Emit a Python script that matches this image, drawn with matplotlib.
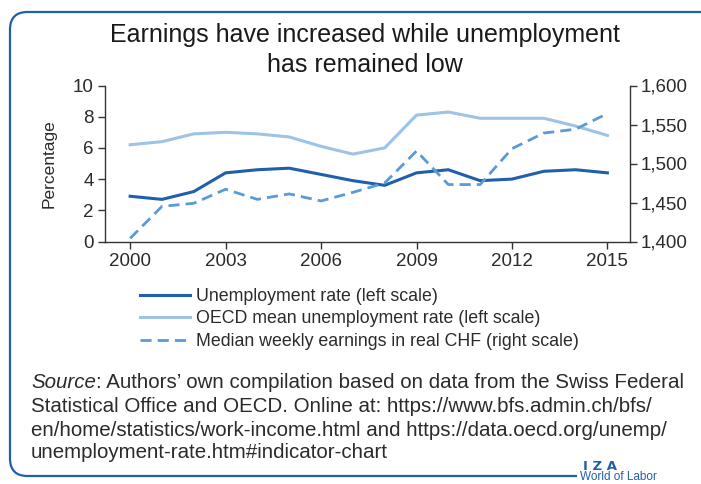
import matplotlib
matplotlib.use("Agg")
import matplotlib.pyplot as plt
from matplotlib.patches import FancyBboxPatch, Rectangle
from matplotlib.ticker import FuncFormatter

years = list(range(2000, 2016))
unemployment = [2.9, 2.7, 3.2, 4.4, 4.6, 4.7, 4.3, 3.9, 3.6, 4.4, 4.6, 3.9, 4.0, 4.5, 4.6, 4.4]
oecd_unemployment = [6.2, 6.4, 6.9, 7.0, 6.9, 6.7, 6.1, 5.6, 6.0, 8.1, 8.3, 7.9, 7.9, 7.9, 7.4, 6.8]
earnings = [1404, 1445, 1449, 1467, 1454, 1461, 1452, 1463, 1475, 1516, 1473, 1473, 1519, 1539, 1544, 1564]
xticks = [2000, 2003, 2006, 2009, 2012, 2015]
left_ticks = [0, 2, 4, 6, 8, 10]
right_ticks = [1400, 1450, 1500, 1550, 1600]
labels = ["Unemployment rate (left scale)",
          "OECD mean unemployment rate (left scale)",
          "Median weekly earnings in real CHF (right scale)"]
title = "Earnings have increased while unemployment\nhas remained low"

FONT = ["Liberation Sans", "DejaVu Sans"]
plt.rcParams['font.family'] = FONT
TXT = "#2b2b2b"
DARK = "#1f5fad"
LIGHT = "#9dc3e6"
MID = "#5b9bd5"
BORDER = "#1f5fad"

W, H = 701, 484
fig = plt.figure(figsize=(W / 100, H / 100), dpi=100)

# border box
box = FancyBboxPatch((10 / W, 8 / H), 720 / W, (476 - 12) / H,
                     boxstyle="round,pad=0,rounding_size=0.025",
                     transform=fig.transFigure, fill=False,
                     edgecolor=BORDER, linewidth=1.6, mutation_aspect=W / H)
fig.patches.append(box)

ax = fig.add_axes([105 / W, 1 - 241.5 / H, (630 - 105) / W, (241.5 - 85.5) / H])
ax2 = ax.twinx()

l1, = ax.plot(years, unemployment, color=DARK, lw=2.2)
l2, = ax.plot(years, oecd_unemployment, color=LIGHT, lw=2.2)
l3, = ax2.plot(years, earnings, color=MID, lw=2.0, linestyle=(0, (4, 2.2)))

ax.set_xlim(1999.21, 2015.71)
ax.set_ylim(0, 10)
ax2.set_ylim(1400, 1600)
ax.set_xticks(xticks)
ax.set_yticks(left_ticks)
ax2.set_yticks(right_ticks)
ax2.yaxis.set_major_formatter(FuncFormatter(lambda v, p: f"{int(v):,}"))

for a in (ax, ax2):
    a.spines['top'].set_visible(False)
    for s in a.spines.values():
        s.set_color("#333333")
        s.set_linewidth(1.0)
    a.tick_params(colors="#333333", labelcolor=TXT, labelsize=13.5, length=5, width=1.0, pad=3)
ax.spines['right'].set_visible(False)
ax2.spines['left'].set_visible(False)
ax2.spines['bottom'].set_visible(False)
ax.set_ylabel("Percentage", fontsize=12.5, color=TXT, labelpad=12)

fig.text(0.5 * (104 + 625) / W, 1 - 50 / H, title, ha="center", va="center",
         fontsize=18.0, color="#1a1a1a", linespacing=1.3)

fig.legend([l1, l2, l3], labels, loc="upper left",
           bbox_to_anchor=(133 / W, 1 - 281 / H), frameon=False,
           fontsize=12.8, handlelength=2.8, handletextpad=0.35,
           labelspacing=0.3, labelcolor=TXT, borderaxespad=0)

# source text
src_lines = [
    ": Authors\u2019 own compilation based on data from the Swiss Federal",
    "Statistical Office and OECD. Online at: https://www.bfs.admin.ch/bfs/",
    "en/home/statistics/work-income.html and https://data.oecd.org/unemp/",
    "unemployment-rate.htm#indicator-chart",
]
FS = 14.8
x0 = 31 / W
ys = [382, 406, 430, 453]
t = fig.text(x0, 1 - ys[0] / H, "Source", style="italic", fontsize=FS,
             color=TXT, va="center")
fig.canvas.draw()
bb = t.get_window_extent(fig.canvas.get_renderer())
fig.text(bb.x1 / W, 1 - ys[0] / H, src_lines[0], fontsize=FS, color=TXT, va="center")
for s, y in zip(src_lines[1:], ys[1:]):
    fig.text(x0, 1 - y / H, s, fontsize=FS, color=TXT, va="center")

# logo
fig.patches.append(Rectangle((577 / W, 0), 130 / W, 14 / H, transform=fig.transFigure,
                             facecolor="white", edgecolor="none", zorder=5))
fig.text(583 / W, 1 - 466 / H, "I Z A", fontsize=9.5, color=BORDER, weight="bold",
         va="center", family=["DejaVu Sans"], zorder=6)
fig.text(580 / W, 1 - 477 / H, "World of Labor", fontsize=8.5, color=BORDER,
         va="center", zorder=6)

fig.savefig("out.png", dpi=100)
